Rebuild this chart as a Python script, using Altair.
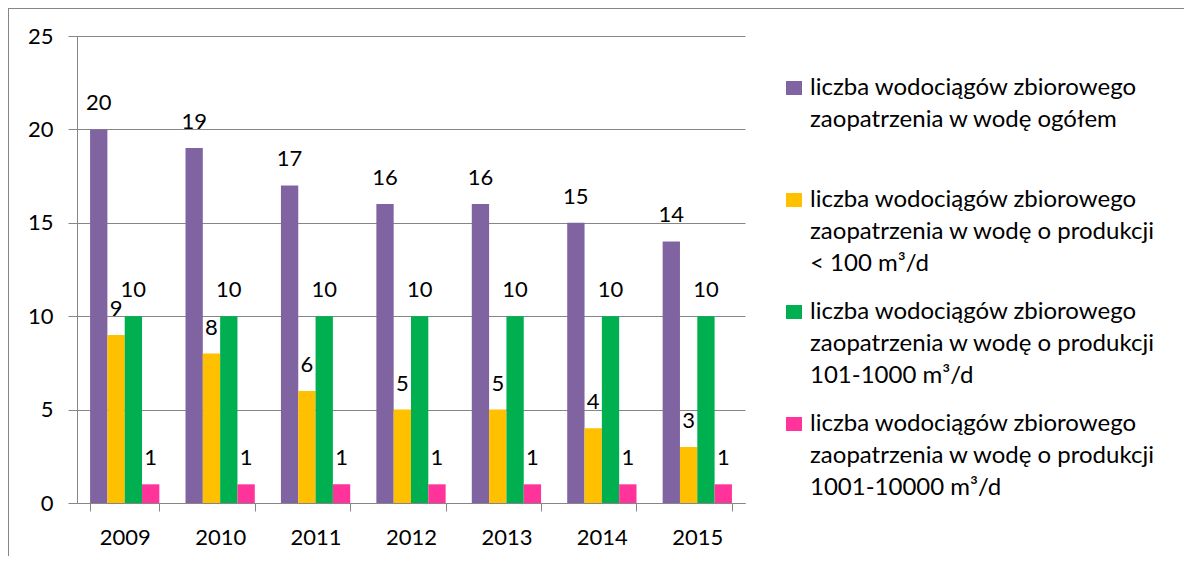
import altair as alt
import pandas as pd

years = ["2009", "2010", "2011", "2012", "2013", "2014", "2015"]
series = [
    "liczba wodociągów zbiorowego|zaopatrzenia w wodę ogółem",
    "liczba wodociągów zbiorowego|zaopatrzenia w wodę o produkcji|< 100 m³/d",
    "liczba wodociągów zbiorowego|zaopatrzenia w wodę o produkcji|101-1000 m³/d",
    "liczba wodociągów zbiorowego|zaopatrzenia w wodę o produkcji|1001-10000 m³/d",
]
colors = ["#8064A2", "#FFC000", "#00B050", "#FF3399"]
total = [20, 19, 17, 16, 16, 15, 14]
small = [9, 8, 6, 5, 5, 4, 3]
medium = [10, 10, 10, 10, 10, 10, 10]
large = [1, 1, 1, 1, 1, 1, 1]
values = [total, small, medium, large]

rows = []
for si, (s, vals) in enumerate(zip(series, values)):
    for y, v in zip(years, vals):
        rows.append({"year": y, "series": s, "order": si, "value": v})
df = pd.DataFrame(rows)

FONT = "Lato"
W, H = 668, 467

x = alt.X("year:N", title=None, sort=years,
          scale=alt.Scale(paddingInner=0.274, paddingOuter=0.137),
          axis=alt.Axis(tickBand="extent", labelAngle=0, labelFontSize=22,
                        labelFont=FONT, labelColor="#000000", labelPadding=16,
                        tickSize=8, tickColor="#868686", domainColor="#868686",
                        grid=False))
y = alt.Y("value:Q", title=None,
          scale=alt.Scale(domain=[0, 25], nice=False),
          axis=alt.Axis(values=[0, 5, 10, 15, 20, 25], labelFontSize=22,
                        labelFont=FONT, labelColor="#000000", labelPadding=15,
                        tickSize=9, tickColor="#868686", domainColor="#868686",
                        gridColor="#868686", gridWidth=1))
xo = alt.XOffset("series:N", sort=series)

bars = alt.Chart(df).mark_bar().encode(
    x=x, y=y, xOffset=xo,
    color=alt.Color("series:N", sort=series,
                    scale=alt.Scale(domain=series, range=colors),
                    legend=alt.Legend(
                        title=None, orient="none", legendX=705, legendY=47,
                        labelExpr="split(datum.label, '|')",
                        labelFont=FONT, labelFontSize=24,
                        labelColor="#000000", labelLimit=0,
                        labelBaseline="alphabetic", labelOffset=4,
                        symbolType="M-1,-1.75H1V0H-1Z", symbolSize=256,
                        symbolStrokeWidth=0, symbolOpacity=1,
                        gridAlign="all", rowPadding=24, padding=0)),
)

labels = alt.Chart(df).mark_text(
    font=FONT, fontSize=22, color="#000000", baseline="alphabetic", dy=-19
).encode(x=x, y=y, xOffset=xo, text="value:Q")

frame_left = alt.Chart(df).mark_rule(color="#868686", strokeWidth=1).encode(
    x=alt.value(-68.5), y=alt.value(-28), y2=alt.value(H + 53))
frame_top = alt.Chart(df).mark_rule(color="#868686", strokeWidth=1).encode(
    x=alt.value(-69), x2=alt.value(W + 439), y=alt.value(-27.5))

chart = alt.layer(bars, labels, frame_left, frame_top).properties(
    width=W, height=H,
    autosize=alt.AutoSizeParams(type="none"),
    padding={"left": 69, "top": 28, "right": 439, "bottom": 53},
).configure(
    style={"guide-label": {"lineHeight": 32}}
).configure_view(stroke=None).configure_axis(
    domainWidth=1, tickWidth=1
)

chart.save("out.html", embed_options={"renderer": "svg", "actions": False})
